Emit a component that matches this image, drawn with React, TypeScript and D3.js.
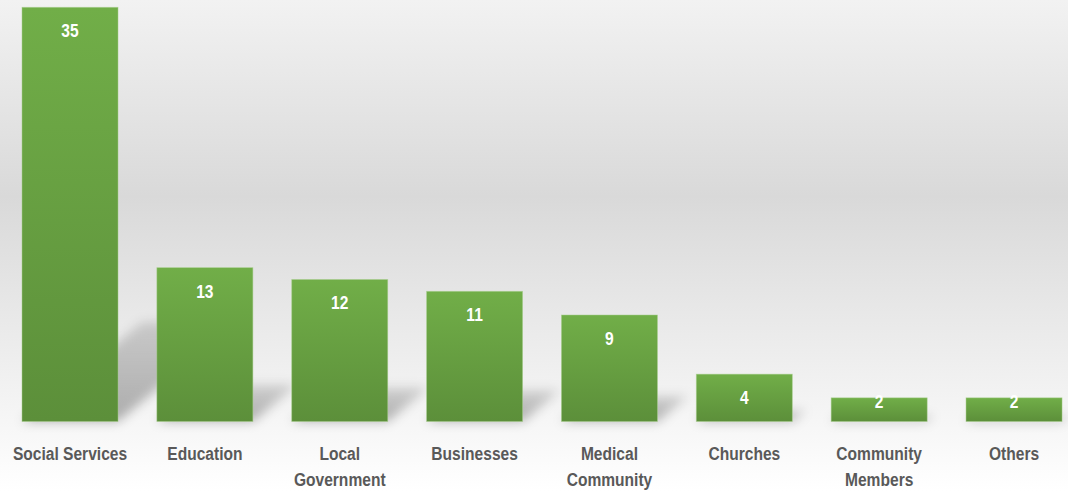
import React from "react";
import * as d3 from "d3";

const categories: string[][] = [
  ["Social Services"],
  ["Education"],
  ["Local", "Government"],
  ["Businesses"],
  ["Medical", "Community"],
  ["Churches"],
  ["Community", "Members"],
  ["Others"],
];
const values: number[] = [35, 13, 12, 11, 9, 4, 2, 2];

const W = 1068;
const H = 491;
const FONT = "'Liberation Sans', Arial, sans-serif";
const SX = 0.82;

export default function App() {
  const keys = categories.map((c) => c.join(" "));
  const step = 134.86;
  const x = d3
    .scaleBand<string>()
    .domain(keys)
    .range([22 - 0.144 * step, 22 - 0.144 * step + 8 * step])
    .paddingInner(0.288)
    .paddingOuter(0.144);
  const y = d3.scaleLinear().domain([0, 35]).range([421.5, 7.3]);
  const base = y(0);
  const bw = x.bandwidth();

  return (
    <svg
      width={W}
      height={H}
      style={{ position: "absolute", left: 0, top: 0, display: "block" }}
    >
      <defs>
        <linearGradient id="bg" x1="0" y1="0" x2="0" y2="1">
          <stop offset="0" stopColor="#f2f2f2" />
          <stop offset="0.4" stopColor="#d9d9d9" />
          <stop offset="1" stopColor="#ffffff" />
        </linearGradient>
        <linearGradient id="bar" x1="0" y1="0" x2="0" y2="1">
          <stop offset="0" stopColor="#71ae48" />
          <stop offset="1" stopColor="#5c8f3a" />
        </linearGradient>
        <linearGradient id="shd" x1="0" y1="1" x2="0" y2="0">
          <stop offset="0" stopColor="#000" stopOpacity={0.3} />
          <stop offset="1" stopColor="#000" stopOpacity={0.14} />
        </linearGradient>
        <filter id="blur" x="-50%" y="-50%" width="200%" height="200%">
          <feGaussianBlur stdDeviation="5.5" />
        </filter>
      </defs>
      <rect x={0} y={0} width={W} height={H} fill="url(#bg)" />
      <g filter="url(#blur)">
        {values.map((v, i) => {
          const x0 = x(keys[i])!;
          const h = base - y(v);
          const sh = 0.24 * h;
          const dx = 0.29 * h;
          const pts = [
            [x0, base],
            [x0 + bw, base],
            [x0 + bw + dx, base - sh],
            [x0 + dx, base - sh],
          ]
            .map((p) => p.join(","))
            .join(" ");
          return <polygon key={i} points={pts} fill="url(#shd)" />;
        })}
      </g>
      {values.map((v, i) => {
        const x0 = x(keys[i])!;
        const top = y(v);
        const h = base - top;
        const cx = x0 + bw / 2;
        const ly = h > 40 ? top + 30 : top + 10;
        return (
          <g key={i}>
            <rect
              x={x0}
              y={top}
              width={bw}
              height={h}
              fill="url(#bar)"
              stroke="#a8cf8e"
              strokeOpacity={0.6}
              strokeWidth={0.8}
            />
            <text
              transform={`translate(${cx},${ly}) scale(${SX},1)`}
              textAnchor="middle"
              fill="#ffffff"
              fontFamily={FONT}
              fontWeight="bold"
              fontSize={19}
            >
              {v}
            </text>
          </g>
        );
      })}
      {categories.map((lines, i) => {
        const cx = x(keys[i])! + bw / 2;
        return (
          <text
            key={i}
            transform={`translate(${cx},460) scale(${SX},1)`}
            textAnchor="middle"
            fill="#595959"
            fontFamily={FONT}
            fontWeight="bold"
            fontSize={19}
          >
            {lines.map((ln, j) => (
              <tspan key={j} x={0} y={j * 26.5}>
                {ln}
              </tspan>
            ))}
          </text>
        );
      })}
    </svg>
  );
}
